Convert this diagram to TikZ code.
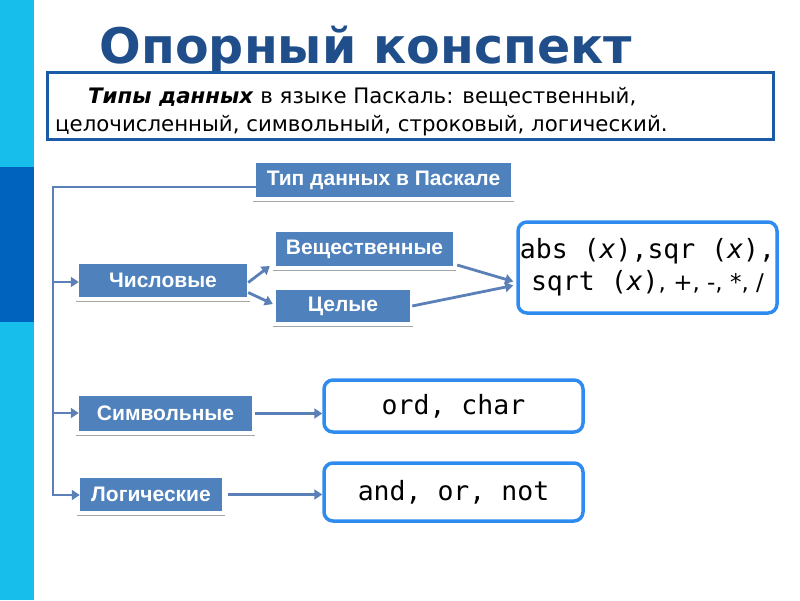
\documentclass[tikz,border=0pt]{standalone}
\usepackage{fontspec}
\setmainfont{DejaVu Sans}
\setmonofont{DejaVu Sans Mono}
\newfontfamily\nodefont{Liberation Sans}
\usetikzlibrary{arrows.meta}
\definecolor{stripe}{HTML}{17BDEB}
\definecolor{stripedark}{HTML}{0063BE}
\definecolor{titleblue}{HTML}{1F4E8A}
\definecolor{framebl}{HTML}{1B5AA5}
\definecolor{nodebl}{HTML}{4F81BD}
\definecolor{linebl}{HTML}{5B80B8}
\definecolor{roundbl}{HTML}{2E8BEF}
\tikzset{
  bluebox/.style={fill=nodebl, text=white, font=\nodefont\bfseries\fontsize{21}{24}\selectfont, inner sep=0pt},
  codebox/.style={draw=roundbl, line width=3.5pt, rounded corners=9pt, fill=white, inner sep=0pt, font=\ttfamily\fontsize{26.5}{32}\selectfont, align=center},
  conn/.style={draw=linebl, line width=2.8pt},
  arr/.style={conn, -{Triangle[length=8pt,width=10pt]}},
  shline/.style={draw=gray!70, line width=1.2pt}
}
\begin{document}
\begin{tikzpicture}[x=1pt,y=-1pt]
\useasboundingbox (0,0) rectangle (800,600);
% left stripe
\fill[stripe] (0,0) rectangle (34,600);
\fill[stripedark] (0,167) rectangle (34,322);
% title
\node[text=titleblue, font=\bfseries\fontsize{49}{56}\selectfont, anchor=base] (title) at (366,63) {Опорный конспект};
% summary frame
\node[draw=framebl, line width=3pt, minimum width=726pt, minimum height=67pt, inner sep=0pt] (frame) at (410,105.5) {};
\node[anchor=base west, font=\fontsize{21.3}{25}\selectfont, inner sep=0pt] (l1) at (88,103) {\textbf{\textit{Типы данных}} в языке Паскаль: вещественный,};
\node[anchor=base west, font=\fontsize{21.3}{25}\selectfont, inner sep=0pt] (l2) at (55,131) {целочисленный, символьный, строковый, логический.};
% blue nodes
\node[bluebox, minimum width=255pt, minimum height=34pt] (tip) at (383.5,180) {Тип данных в Паскале};
\node[bluebox, minimum width=168pt, minimum height=33pt] (chis) at (163,280.5) {Числовые};
\node[bluebox, minimum width=177pt, minimum height=34pt] (vesch) at (364.5,249) {Вещественные};
\node[bluebox, minimum width=134pt, minimum height=32pt] (cel) at (343,306) {Целые};
\node[bluebox, minimum width=173pt, minimum height=35pt] (sim) at (165.5,413.5) {Символьные};
\node[bluebox, minimum width=142pt, minimum height=33pt] (log) at (151,494.5) {Логические};
% shadow lines
\foreach \n in {tip,chis,vesch,cel,sim,log}{
  \draw[shline] ([xshift=-3pt,yshift=-4pt]\n.south west) -- ([xshift=3pt,yshift=-4pt]\n.south east);
}
% code boxes
\node[codebox, minimum width=259pt, minimum height=91pt] (absb) at (647.5,267.5) {abs (\textit{x}),sqr (\textit{x}),\\ sqrt (\textit{x}){\rmfamily\fontsize{23}{26}\selectfont, +, -, *, /}};
\node[codebox, minimum width=259pt, minimum height=52pt] (ordb) at (453.5,406) {ord, char};
\node[codebox, minimum width=259pt, minimum height=58pt] (andb) at (453.5,492) {and, or, not};
% trunk
\coordinate (ttop) at (53,187);
\coordinate (tbot) at (53,495);
\coordinate (tc) at (53,282);
\coordinate (ts) at (53,413);
\draw[conn, line cap=rect] (tip.west |- ttop) -- (ttop) -- (tbot);
\draw[arr] (tc) -- (chis.west |- tc);
\draw[arr] (ts) -- (sim.west |- ts);
\draw[arr] (tbot) -- (log.west |- tbot);
% numeric branches
\draw[arr] ([xshift=1pt,yshift=-2pt]chis.east) -- ([xshift=-6pt,yshift=-17pt]vesch.west);
\draw[arr] ([xshift=1pt,yshift=-12pt]chis.east) -- ([xshift=-3pt,yshift=2pt]cel.west);
\draw[arr] ([xshift=4pt,yshift=-16pt]vesch.east) -- ([xshift=-3pt,yshift=-14pt]absb.west);
\draw[arr] ([xshift=2pt]cel.east) -- ([xshift=-3pt,yshift=-18pt]absb.west);
\draw[arr] ([xshift=3pt]sim.east) -- (ordb.west |- sim.east);
\draw[arr] ([xshift=6pt]log.east) -- (andb.west |- log.east);
\end{tikzpicture}
\end{document}
